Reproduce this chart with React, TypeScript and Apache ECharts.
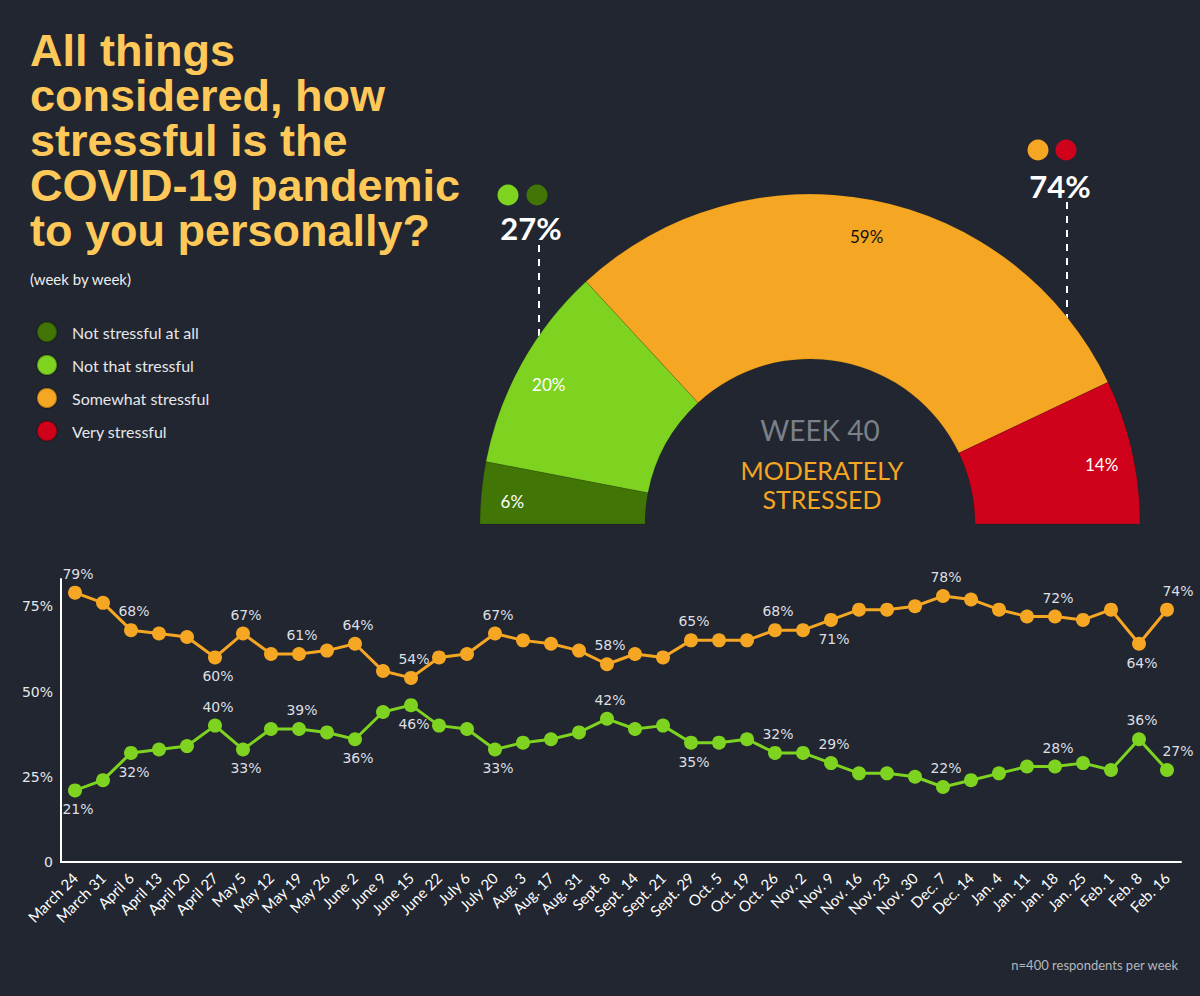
import React, { useEffect, useRef } from "react";
import * as echarts from "echarts";

const weeks = [
  "March 24", "March 31", "April 6", "April 13", "April 20", "April 27", "May 5", "May 12",
  "May 19", "May 26", "June 2", "June 9", "June 15", "June 22", "July 6", "July 20",
  "Aug. 3", "Aug. 17", "Aug. 31", "Sept. 8", "Sept. 14", "Sept. 21", "Sept. 29", "Oct. 5",
  "Oct. 19", "Oct. 26", "Nov. 2", "Nov. 9", "Nov. 16", "Nov. 23", "Nov. 30", "Dec. 7",
  "Dec. 14", "Jan. 4", "Jan. 11", "Jan. 18", "Jan. 25", "Feb. 1", "Feb. 8", "Feb. 16",
];

// Somewhat + very stressful (%)
const stressful = [
  79, 76, 68, 67, 66, 60, 67, 61, 61, 62,
  64, 56, 54, 60, 61, 67, 65, 64, 62, 58,
  61, 60, 65, 65, 65, 68, 68, 71, 74, 74,
  75, 78, 77, 74, 72, 72, 71, 74, 64, 74,
];

// Not that stressful + not stressful at all (%)
const notStressful = [
  21, 24, 32, 33, 34, 40, 33, 39, 39, 38,
  36, 44, 46, 40, 39, 33, 35, 36, 38, 42,
  39, 40, 35, 35, 36, 32, 32, 29, 26, 26,
  25, 22, 24, 26, 28, 28, 29, 27, 36, 27,
];

// Indices of points whose value is printed, and where
const stressfulLabelsTop = [0, 2, 6, 8, 10, 12, 15, 19, 22, 25, 31, 35, 39];
const stressfulLabelsBottom = [5, 27, 38];
const notStressfulLabelsTop = [5, 8, 19, 25, 27, 31, 35, 38, 39];
const notStressfulLabelsBottom = [0, 2, 6, 10, 12, 15, 22];

const yTicks = [0, 25, 50, 75];

// Gauge (week 40)
const gaugeCategories = ["Not stressful at all", "Not that stressful", "Somewhat stressful", "Very stressful"];
const gaugeValues = [6, 20, 59, 14];
const gaugeColors = ["#417505", "#7ED321", "#F5A623", "#D0021B"];
const gaugeLabelColors = ["#ffffff", "#ffffff", "#111111", "#ffffff"];

const titleLines = ["All things", "considered, how", "stressful is the", "COVID-19 pandemic", "to you personally?"];
const subtitle = "(week by week)";
const weekLabel = "WEEK 40";
const moodLines = ["MODERATELY", "STRESSED"];
const footnote = "n=400 respondents per week";

const BG = "#212631";

function buildLineData(values: number[], top: number[], bottom: number[]) {
  const last = values.length - 1;
  return values.map((v, i) => {
    let pos: string | null = null;
    if (top.includes(i)) pos = "top";
    if (bottom.includes(i)) pos = "bottom";
    return {
      value: v,
      label: pos
        ? { show: true, position: pos, formatter: "{c}%", offset: i === last ? [11, 0] : [3, 0] }
        : { show: false },
    };
  });
}

export default function App() {
  const ref = useRef<HTMLDivElement>(null);

  useEffect(() => {
    document.body.style.margin = "0";
    document.body.style.background = BG;
    if (!ref.current) return;
    const chart = echarts.init(ref.current, null, { renderer: "svg" });

    const gaugeTotal = gaugeValues.reduce((a, b) => a + b, 0);
    const lastNot = notStressful[notStressful.length - 1];
    const lastStress = stressful[stressful.length - 1];

    const lineLabel = {
      color: "#dedfe1",
      fontSize: 14,
      fontFamily: "DejaVu Sans",
      distance: 5,
    };

    const titleGraphics = titleLines.map((line, i) => ({
      type: "text",
      x: 30,
      y: 50 + i * 45,
      style: {
        text: line,
        fill: "#FFC95A",
        font: 'bold 45px "Liberation Sans", Arial, sans-serif',
        verticalAlign: "middle",
      },
    }));

    const option: any = {
      animation: false,
      backgroundColor: BG,
      grid: { left: 61, right: 19, top: 579, bottom: 134, containLabel: false },
      xAxis: {
        type: "category",
        data: weeks,
        boundaryGap: true,
        axisLine: { show: true, lineStyle: { color: "#ffffff", width: 2 } },
        axisTick: { show: false },
        axisLabel: {
          interval: 0,
          rotate: 45,
          color: "#ffffff",
          fontSize: 15,
          fontFamily: "Lato",
          margin: 13,
        },
        splitLine: { show: false },
      },
      yAxis: {
        type: "value",
        min: 0,
        max: 83,
        interval: 25,
        axisLine: { show: true, lineStyle: { color: "#ffffff", width: 2 } },
        axisTick: { show: false },
        splitLine: { show: false },
        axisLabel: {
          color: "#e6e7e9",
          fontSize: 14,
          fontFamily: "DejaVu Sans",
          margin: 8,
          formatter: (v: number) => (yTicks.includes(v) ? (v === 0 ? "0" : v + "%") : ""),
        },
      },
      legend: {
        orient: "vertical",
        left: 31,
        top: 316,
        itemWidth: 40,
        itemHeight: 20,
        itemGap: 11,
        icon: "circle",
        selectedMode: false,
        data: gaugeCategories,
        textStyle: { color: "#e6e7e9", fontSize: 16, fontFamily: "Lato" },
      },
      series: [
        {
          type: "line",
          name: "Stressful",
          data: buildLineData(stressful, stressfulLabelsTop, stressfulLabelsBottom),
          symbol: "circle",
          symbolSize: 14,
          itemStyle: { color: "#F5A623" },
          lineStyle: { color: "#F5A623", width: 3 },
          label: lineLabel,
          silent: true,
          z: 3,
        },
        {
          type: "line",
          name: "Not stressful",
          data: buildLineData(notStressful, notStressfulLabelsTop, notStressfulLabelsBottom),
          symbol: "circle",
          symbolSize: 14,
          itemStyle: { color: "#7ED321" },
          lineStyle: { color: "#7ED321", width: 3 },
          label: lineLabel,
          silent: true,
          z: 3,
        },
        {
          type: "pie",
          name: "Week 40",
          center: [810, 524],
          radius: [165, 330],
          startAngle: 180,
          clockwise: true,
          silent: true,
          label: { show: false },
          labelLine: { show: false },
          data: [
            ...gaugeValues.map((v, i) => ({
              name: gaugeCategories[i],
              value: v,
              itemStyle: { color: gaugeColors[i], borderColor: "rgba(0,0,0,0.25)", borderWidth: 0.5 },
            })),
            { name: "", value: gaugeTotal, itemStyle: { color: "rgba(0,0,0,0)" } },
          ],
        },
        {
          type: "pie",
          name: "Week 40 labels",
          center: [810, 524],
          radius: [262, 330],
          startAngle: 180,
          clockwise: true,
          silent: true,
          labelLine: { show: false },
          data: [
            ...gaugeValues.map((v, i) => ({
              name: "lbl" + i,
              value: v,
              itemStyle: { color: "rgba(0,0,0,0)" },
              label: {
                show: true,
                position: "inside",
                formatter: "{c}%",
                color: gaugeLabelColors[i],
                fontSize: 17,
                fontFamily: "Lato",
                offset: [0, 6],
              },
            })),
            { name: "lblFill", value: gaugeTotal, itemStyle: { color: "rgba(0,0,0,0)" }, label: { show: false } },
          ],
        },
      ],
      graphic: [
        ...titleGraphics,
        {
          type: "text",
          x: 30,
          y: 279,
          style: {
            text: subtitle,
            fill: "#eeeeee",
            font: '15px Lato, sans-serif',
            verticalAlign: "middle",
          },
        },
        {
          type: "text",
          x: 820,
          y: 430,
          style: {
            text: weekLabel,
            fill: "#7b8089",
            font: '28px Lato, sans-serif',
            align: "center",
            verticalAlign: "middle",
          },
        },
        {
          type: "text",
          x: 822,
          y: 470,
          style: {
            text: moodLines[0],
            fill: "#F5A623",
            font: '25px Lato, sans-serif',
            align: "center",
            verticalAlign: "middle",
          },
        },
        {
          type: "text",
          x: 822,
          y: 499,
          style: {
            text: moodLines[1],
            fill: "#F5A623",
            font: '25px Lato, sans-serif',
            align: "center",
            verticalAlign: "middle",
          },
        },
        // left annotation
        { type: "circle", shape: { cx: 508, cy: 195, r: 10.5 }, style: { fill: gaugeColors[1] } },
        { type: "circle", shape: { cx: 537, cy: 195, r: 10.5 }, style: { fill: gaugeColors[0] } },
        {
          type: "text",
          x: 531,
          y: 228,
          style: {
            text: lastNot + "%",
            fill: "#ffffff",
            font: 'bold 31px Lato, sans-serif',
            align: "center",
            verticalAlign: "middle",
          },
        },
        {
          type: "line",
          shape: { x1: 539, y1: 245, x2: 539, y2: 337 },
          style: { stroke: "#ffffff", lineWidth: 2, lineDash: [7, 7] },
        },
        // right annotation
        { type: "circle", shape: { cx: 1038, cy: 150, r: 10.5 }, style: { fill: gaugeColors[2] } },
        { type: "circle", shape: { cx: 1066, cy: 150, r: 10.5 }, style: { fill: gaugeColors[3] } },
        {
          type: "text",
          x: 1060,
          y: 186,
          style: {
            text: lastStress + "%",
            fill: "#ffffff",
            font: 'bold 31px Lato, sans-serif',
            align: "center",
            verticalAlign: "middle",
          },
        },
        {
          type: "line",
          shape: { x1: 1067, y1: 202, x2: 1067, y2: 318 },
          style: { stroke: "#ffffff", lineWidth: 2, lineDash: [7, 7] },
        },
        {
          type: "text",
          x: 1178,
          y: 965,
          style: {
            text: footnote,
            fill: "#b4b7bc",
            font: '13px Lato, sans-serif',
            align: "right",
            verticalAlign: "middle",
          },
        },
      ],
    };

    chart.setOption(option);
    return () => chart.dispose();
  }, []);

  return (
    <div
      ref={ref}
      style={{ position: "absolute", left: 0, top: 0, width: 1200, height: 996 }}
    />
  );
}
